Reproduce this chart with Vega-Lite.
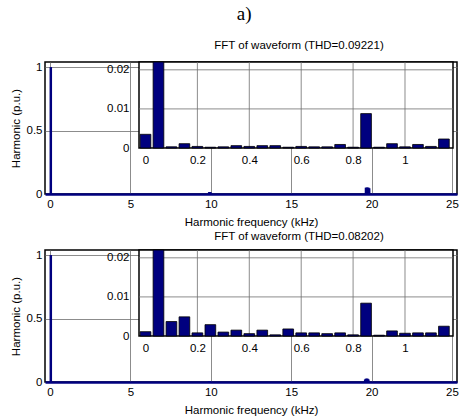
{
  "$schema": "https://vega.github.io/schema/vega-lite/v6.json",
  "padding": {"left": 9, "top": 4, "right": 0, "bottom": 0},
  "title": {"text": "a)", "font": "Liberation Serif", "fontSize": 19, "fontWeight": "normal", "color": "black", "anchor": "middle", "dx": 10, "offset": 15},
  "datasets": {
    "main1": [
      {"f": 0.05, "h": 1},
      {"f": 9.9, "h": 0.015}, {"f": 9.95, "h": 0.015}, {"f": 10.0, "h": 0.012},
      {"f": 19.65, "h": 0.05}, {"f": 19.7, "h": 0.05}, {"f": 19.75, "h": 0.05}, {"f": 19.8, "h": 0.05}, {"f": 19.85, "h": 0.045}
    ],
    "main2": [
      {"f": 0.05, "h": 1},
      {"f": 9.9, "h": 0.008}, {"f": 9.95, "h": 0.008},
      {"f": 19.6, "h": 0.02}, {"f": 19.65, "h": 0.026}, {"f": 19.7, "h": 0.026}, {"f": 19.75, "h": 0.026}, {"f": 19.8, "h": 0.02}
    ],
    "inset1": [
      {"f": 0, "h": 0.0035}, {"f": 0.05, "h": 1}, {"f": 0.1, "h": 0.0003}, {"f": 0.15, "h": 0.0011},
      {"f": 0.2, "h": 0.0004}, {"f": 0.25, "h": 0.0002}, {"f": 0.3, "h": 0.0003}, {"f": 0.35, "h": 0.0006},
      {"f": 0.4, "h": 0.0004}, {"f": 0.45, "h": 0.0006}, {"f": 0.5, "h": 0.0006}, {"f": 0.55, "h": 0.0002},
      {"f": 0.6, "h": 0.0004}, {"f": 0.65, "h": 0.0003}, {"f": 0.7, "h": 0.0003}, {"f": 0.75, "h": 0.0009},
      {"f": 0.8, "h": 0.0002}, {"f": 0.85, "h": 0.0088}, {"f": 0.9, "h": 0.0002}, {"f": 0.95, "h": 0.0011},
      {"f": 1.0, "h": 0.0003}, {"f": 1.05, "h": 0.0009}, {"f": 1.1, "h": 0.0004}, {"f": 1.15, "h": 0.0023}
    ],
    "inset2": [
      {"f": 0, "h": 0.0011}, {"f": 0.05, "h": 1}, {"f": 0.1, "h": 0.0037}, {"f": 0.15, "h": 0.0049},
      {"f": 0.2, "h": 0.0008}, {"f": 0.25, "h": 0.0029}, {"f": 0.3, "h": 0.001}, {"f": 0.35, "h": 0.0015},
      {"f": 0.4, "h": 0.0006}, {"f": 0.45, "h": 0.0015}, {"f": 0.5, "h": 0.0003}, {"f": 0.55, "h": 0.0018},
      {"f": 0.6, "h": 0.0008}, {"f": 0.65, "h": 0.0008}, {"f": 0.7, "h": 0.0006}, {"f": 0.75, "h": 0.0008},
      {"f": 0.8, "h": 0.0003}, {"f": 0.85, "h": 0.0084}, {"f": 0.9, "h": 0.0002}, {"f": 0.95, "h": 0.0013},
      {"f": 1.0, "h": 0.0007}, {"f": 1.05, "h": 0.0008}, {"f": 1.1, "h": 0.0008}, {"f": 1.15, "h": 0.0025}
    ],
    "gridx": [{"gx": 0.2}, {"gx": 0.4}, {"gx": 0.6}, {"gx": 0.8}, {"gx": 1}],
    "gridy": [{"gy": 0.01}, {"gy": 0.02}]
  },
  "spacing": 0,
  "vconcat": [
    {
      "width": 412, "height": 132,
      "title": {"text": "FFT of waveform (THD=0.09221)", "dx": 48, "offset": 10},
      "layer": [
        {
          "data": {"name": "main1"},
          "mark": {"type": "bar", "size": 2.5, "color": "#00007F"},
          "encoding": {
            "x": {"field": "f", "type": "quantitative", "scale": {"domain": [0, 25], "nice": false, "zero": false},
                  "axis": {"orient": "bottom", "values": [0, 5, 10, 15, 20, 25], "format": "~g", "title": "Harmonic frequency (kHz)", "grid": true, "domainColor": "#00007F", "domainWidth": 2.5, "labelPadding": 4, "titlePadding": 7}},
            "y": {"field": "h", "type": "quantitative", "stack": null, "scale": {"domain": [0, 1.04], "nice": false},
                  "axis": {"orient": "left", "values": [0, 0.5, 1], "format": "~g", "title": "Harmonic (p.u.)", "grid": true, "domain": false, "labelPadding": 3, "titlePadding": 5}}
          }
        },
        {
          "layer": [
            {
              "data": {"values": [{}]},
              "mark": {"type": "rect", "fill": "white", "stroke": "black", "strokeWidth": 1.5},
              "encoding": {
                "x": {"datum": -0.025, "type": "quantitative", "scale": {"domain": [-0.025, 1.185], "range": [89, 413], "nice": false, "zero": false},
                      "axis": {"orient": "bottom", "offset": -46, "values": [0, 0.2, 0.4, 0.6, 0.8, 1], "format": "~g", "title": null, "grid": false, "domain": false, "zindex": 1, "labelPadding": 6.5}},
                "x2": {"datum": 1.185},
                "y": {"datum": 0, "type": "quantitative", "scale": {"domain": [0, 0.022], "range": [86, 0], "nice": false, "clamp": true},
                      "axis": {"orient": "left", "offset": -89, "values": [0, 0.01, 0.02], "format": "~g", "title": null, "grid": false, "domain": false, "zindex": 1, "labelPadding": 5}},
                "y2": {"datum": 0.022}
              }
            },
            {
              "data": {"name": "gridx"},
              "mark": {"type": "rule", "color": "#6e6e6e", "strokeWidth": 0.8},
              "encoding": {"x": {"field": "gx", "type": "quantitative"}, "y": {"datum": 0}, "y2": {"datum": 0.022}}
            },
            {
              "data": {"name": "gridy"},
              "mark": {"type": "rule", "color": "#6e6e6e", "strokeWidth": 0.8},
              "encoding": {"y": {"field": "gy", "type": "quantitative"}, "x": {"datum": -0.025}, "x2": {"datum": 1.185}}
            },
            {
              "data": {"name": "inset1"},
              "mark": {"type": "bar", "size": 10.7, "fill": "#00007F", "stroke": "black", "strokeWidth": 0.8},
              "encoding": {
                "x": {"field": "f", "type": "quantitative"},
                "y": {"field": "h", "type": "quantitative", "stack": null}
              }
            }
          ]
        }
      ],
      "resolve": {"scale": {"x": "independent", "y": "independent"}, "axis": {"x": "independent", "y": "independent"}}
    },
    {
      "width": 412, "height": 132,
      "title": {"text": "FFT of waveform (THD=0.08202)", "dx": 48, "offset": 7},
      "layer": [
        {
          "data": {"name": "main2"},
          "mark": {"type": "bar", "size": 2.5, "color": "#00007F"},
          "encoding": {
            "x": {"field": "f", "type": "quantitative", "scale": {"domain": [0, 25], "nice": false, "zero": false},
                  "axis": {"orient": "bottom", "values": [0, 5, 10, 15, 20, 25], "format": "~g", "title": "Harmonic frequency (kHz)", "grid": true, "domainColor": "#00007F", "domainWidth": 2.5, "labelPadding": 4, "titlePadding": 7}},
            "y": {"field": "h", "type": "quantitative", "stack": null, "scale": {"domain": [0, 1.04], "nice": false},
                  "axis": {"orient": "left", "values": [0, 0.5, 1], "format": "~g", "title": "Harmonic (p.u.)", "grid": true, "domain": false, "labelPadding": 3, "titlePadding": 5}}
          }
        },
        {
          "layer": [
            {
              "data": {"values": [{}]},
              "mark": {"type": "rect", "fill": "white", "stroke": "black", "strokeWidth": 1.5},
              "encoding": {
                "x": {"datum": -0.025, "type": "quantitative", "scale": {"domain": [-0.025, 1.185], "range": [89, 413], "nice": false, "zero": false},
                      "axis": {"orient": "bottom", "offset": -46, "values": [0, 0.2, 0.4, 0.6, 0.8, 1], "format": "~g", "title": null, "grid": false, "domain": false, "zindex": 1, "labelPadding": 6.5}},
                "x2": {"datum": 1.185},
                "y": {"datum": 0, "type": "quantitative", "scale": {"domain": [0, 0.022], "range": [86, 0], "nice": false, "clamp": true},
                      "axis": {"orient": "left", "offset": -89, "values": [0, 0.01, 0.02], "format": "~g", "title": null, "grid": false, "domain": false, "zindex": 1, "labelPadding": 5}},
                "y2": {"datum": 0.022}
              }
            },
            {
              "data": {"name": "gridx"},
              "mark": {"type": "rule", "color": "#6e6e6e", "strokeWidth": 0.8},
              "encoding": {"x": {"field": "gx", "type": "quantitative"}, "y": {"datum": 0}, "y2": {"datum": 0.022}}
            },
            {
              "data": {"name": "gridy"},
              "mark": {"type": "rule", "color": "#6e6e6e", "strokeWidth": 0.8},
              "encoding": {"y": {"field": "gy", "type": "quantitative"}, "x": {"datum": -0.025}, "x2": {"datum": 1.185}}
            },
            {
              "data": {"name": "inset2"},
              "mark": {"type": "bar", "size": 10.7, "fill": "#00007F", "stroke": "black", "strokeWidth": 0.8},
              "encoding": {
                "x": {"field": "f", "type": "quantitative"},
                "y": {"field": "h", "type": "quantitative", "stack": null}
              }
            }
          ]
        }
      ],
      "resolve": {"scale": {"x": "independent", "y": "independent"}, "axis": {"x": "independent", "y": "independent"}}
    }
  ],
  "config": {
    "view": {"stroke": "black", "strokeWidth": 1.5},
    "title": {"font": "Liberation Sans", "fontSize": 11.5, "fontWeight": "normal", "color": "black", "anchor": "middle"},
    "axis": {
      "labelFont": "Liberation Sans", "labelFontSize": 11.5, "labelColor": "black",
      "titleFont": "Liberation Sans", "titleFontSize": 11.5, "titleFontWeight": "normal", "titleColor": "black",
      "ticks": false, "labelPadding": 5, "titlePadding": 3,
      "gridColor": "#6e6e6e", "gridWidth": 0.8, "gridOpacity": 1
    }
  }
}
